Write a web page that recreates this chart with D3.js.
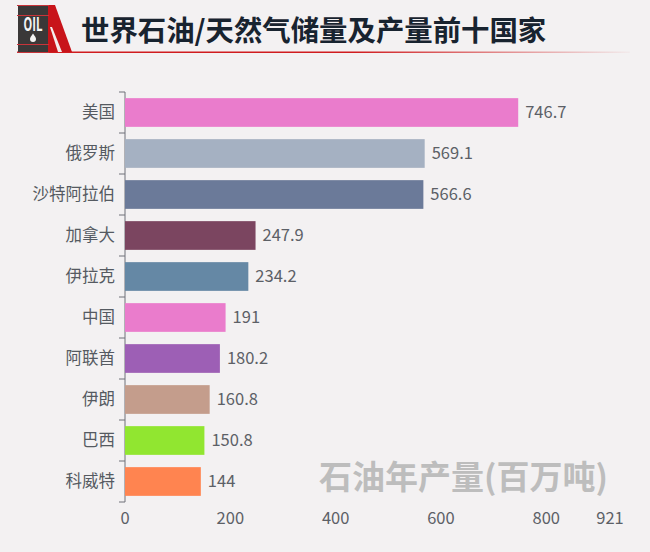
<!DOCTYPE html>
<html>
<head>
<meta charset="utf-8">
<script src="https://cdn.jsdelivr.net/npm/d3@7"></script>
<style>
    html, body { margin: 0; padding: 0; background: #f3f1f2; }
    svg { display: block; }
    text { font-family: "Noto Sans CJK SC", "Noto Sans", sans-serif; }
</style>
</head>
<body>
<div id="chart"></div>
<script>
const countries = ["美国", "俄罗斯", "沙特阿拉伯", "加拿大", "伊拉克", "中国", "阿联酋", "伊朗", "巴西", "科威特"];
const output = [746.7, 569.1, 566.6, 247.9, 234.2, 191, 180.2, 160.8, 150.8, 144];
const barColors = ["#ea7ccc", "#a5b1c2", "#6b7a99", "#7b4560", "#6588a5", "#ea7ccc", "#9d5fb5", "#c49d8c", "#91e630", "#ff8450"];
const xTicks = [0, 200, 400, 600, 800, 921];

const width = 650, height = 552;
const margin = { top: 92, left: 125, bottom: 50, right: 40 };

const svg = d3.select("#chart").append("svg")
    .attr("width", width)
    .attr("height", height);

const x = d3.scaleLinear().domain([0, 921]).range([margin.left, width - margin.right]);
const y = d3.scaleBand().domain(countries).range([margin.top, height - margin.bottom]).paddingInner(0.3).paddingOuter(0.15);

// y axis: ticks sit between the bands
const axisY = svg.append("g");
axisY.append("line")
    .attr("x1", margin.left).attr("x2", margin.left)
    .attr("y1", margin.top).attr("y2", height - margin.bottom)
    .attr("stroke", "#6e7079");
axisY.selectAll(".tick").data(d3.range(countries.length + 1)).join("line")
    .attr("class", "tick")
    .attr("x1", margin.left - 6).attr("x2", margin.left)
    .attr("y1", d => margin.top + d * (height - margin.bottom - margin.top) / countries.length)
    .attr("y2", d => margin.top + d * (height - margin.bottom - margin.top) / countries.length)
    .attr("stroke", "#6e7079");

svg.append("g").selectAll("text").data(countries).join("text")
    .attr("x", margin.left - 10)
    .attr("y", d => y(d) + y.bandwidth() / 2)
    .attr("dy", "0.35em")
    .attr("text-anchor", "end")
    .attr("font-size", 16.5)
    .attr("fill", "#555a61")
    .text(d => d);

svg.append("g").selectAll("rect").data(output).join("rect")
    .attr("x", x(0))
    .attr("y", (d, i) => y(countries[i]))
    .attr("width", d => x(d) - x(0))
    .attr("height", y.bandwidth())
    .attr("fill", (d, i) => barColors[i]);

svg.append("g").selectAll("text").data(output).join("text")
    .attr("x", d => x(d) + 7)
    .attr("y", (d, i) => y(countries[i]) + y.bandwidth() / 2)
    .attr("dy", "0.35em")
    .attr("font-size", 16.5)
    .attr("fill", "#5c6066")
    .text(d => d);

svg.append("g").selectAll("text").data(xTicks).join("text")
    .attr("x", d => x(d))
    .attr("y", 518)
    .attr("dy", "0.35em")
    .attr("text-anchor", "middle")
    .attr("font-size", 16.5)
    .attr("fill", "#5c6066")
    .text(d => d);

// watermark-style series name
svg.append("text")
    .attr("x", 319).attr("y", 477)
    .attr("dy", "0.35em")
    .attr("font-size", 33)
    .attr("font-weight", 700)
    .attr("fill", "#bdbdbd")
    .text("石油年产量(百万吨)");

// header
const fade = svg.append("defs").append("linearGradient").attr("id", "ruleFade");
fade.append("stop").attr("offset", "0%").attr("stop-color", "#d01c1f");
fade.append("stop").attr("offset", "55%").attr("stop-color", "#d01c1f");
fade.append("stop").attr("offset", "100%").attr("stop-color", "#d01c1f").attr("stop-opacity", 0.03);

svg.append("rect").attr("x", 17).attr("y", 51.5).attr("width", 613).attr("height", 1.5).attr("fill", "url(#ruleFade)");

const logo = svg.append("g");
logo.append("rect").attr("x", 18).attr("y", 5).attr("width", 31).attr("height", 48).attr("fill", "#3a3838");
logo.append("path").attr("d", "M48 5 L55 5 L72 52 L48 52 Z").attr("fill", "#c8141a");
logo.append("path").attr("d", "M50 27 L52 27 L62 52 L58 52 Z").attr("fill", "#f4eeee");
[5, 15, 44, 52].forEach(v => logo.append("rect").attr("x", 17).attr("y", v).attr("width", 32).attr("height", 1).attr("fill", "#c8343a"));
logo.append("text").attr("x", 33).attr("y", 24).attr("dy", "0.35em")
    .attr("text-anchor", "middle").attr("font-size", 19).attr("font-weight", 700)
    .attr("fill", "#f4f4f4").attr("textLength", 19).attr("lengthAdjust", "spacingAndGlyphs").text("OIL");
logo.append("path").attr("d", "M33 33.5 C35 36.5 36 37.5 36 39 A3 3 0 0 1 30 39 C30 37.5 31 36.5 33 33.5 Z").attr("fill", "#f4f4f4");

svg.append("text")
    .attr("x", 81).attr("y", 31)
    .attr("dy", "0.35em")
    .attr("font-size", 28.4)
    .attr("font-weight", 700)
    .attr("fill", "#18232f")
    .text("世界石油/天然气储量及产量前十国家");
</script>
</body>
</html>
